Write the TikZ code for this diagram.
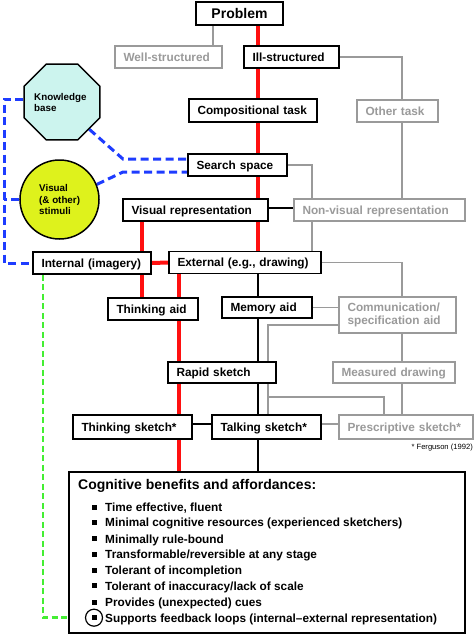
\documentclass[tikz,border=0pt]{standalone}
\usepackage{fontspec}
\setmainfont{Liberation Sans}
\usetikzlibrary{shapes.geometric}
\definecolor{grayc}{HTML}{9A9A9A}
\definecolor{kbfill}{HTML}{CCF4EE}
\definecolor{visfill}{HTML}{DEF21C}
\definecolor{blued}{HTML}{1E3CFF}
\definecolor{greend}{HTML}{44EE33}
\definecolor{redl}{HTML}{FF1010}
\pgfdeclarelayer{bg}
\pgfsetlayers{bg,main}
\begin{document}
\begin{tikzpicture}[x=1pt,y=-1pt,
  bx/.style={draw=black, line width=1.5pt, fill=white, inner xsep=8.5pt, inner ysep=0pt,
    align=left, font=\fontsize{11.8}{13.5}\selectfont\bfseries, text=black},
  oneline/.style={text height=9.5pt, text depth=1.05pt},
  gbx/.style={bx, draw=grayc, text=grayc, line width=1.2pt},
  redline/.style={draw=redl, line width=4pt},
  blkline/.style={draw=black, line width=1.8pt},
  grayline/.style={draw=grayc, line width=1.2pt},
  blueline/.style={draw=blued, line width=3pt, dash pattern=on 8pt off 4.5pt},
  greenline/.style={draw=greend, line width=2.7pt, dash pattern=on 6pt off 3.5pt},
  smalltxt/.style={font=\fontsize{9.8}{11.5}\selectfont\bfseries, align=left, inner sep=0pt, anchor=west},
  btxt/.style={font=\fontsize{11.8}{13.5}\selectfont\bfseries, inner sep=0pt, anchor=base west},
  bsq/.style={fill=black, minimum size=5pt, inner sep=0pt},
]
\useasboundingbox (0,0) rectangle (475,634);

% boxes
\node[bx, align=center, font=\fontsize{14}{16}\selectfont\bfseries, text height=11pt, text depth=1pt,
      minimum width=87pt, minimum height=23pt, inner xsep=0pt] (prob) at (239.5,13.5) {Problem};
\node[gbx, oneline, text width=90pt, minimum height=22pt] (well) at (168.5,57) {Well-structured};
\node[bx, oneline, text width=78pt, minimum height=22pt] (ill) at (291.5,57) {Ill-structured};
\node[bx, oneline, text width=111pt, minimum height=23pt] (comp) at (253,110.5) {Compositional task};
\node[gbx, oneline, text width=64pt, minimum height=22pt] (other) at (397.5,111) {Other task};
\node[bx, oneline, text width=82pt, minimum height=22pt] (search) at (237.5,165) {Search space};
\node[bx, oneline, text width=128pt, minimum height=22pt] (visrep) at (195.5,210) {Visual representation};
\node[gbx, oneline, text width=154pt, minimum height=22pt] (nonvis) at (379.5,210) {Non-visual representation};
\node[bx, oneline, text width=101pt, minimum height=22pt] (int) at (92,263) {Internal (imagery)};
\node[bx, oneline, text width=135pt, minimum height=22pt] (ext) at (245,262.5) {External (e.g., drawing)};
\node[bx, oneline, text width=73pt, minimum height=22pt] (thinka) at (153,309) {Thinking aid};
\node[bx, oneline, text width=73pt, minimum height=21pt] (mem) at (267,307.5) {Memory aid};
\node[gbx, text width=100pt, minimum height=36pt] (comm) at (397.5,315) {Communication/\\specification aid};
\node[bx, oneline, text width=91pt, minimum height=21pt] (rapid) at (222,372.5) {Rapid sketch};
\node[gbx, oneline, text width=105pt, minimum height=21pt] (meas) at (394,372.5) {Measured drawing};
\node[bx, oneline, text width=102pt, minimum height=24pt] (think) at (132.5,427) {Thinking sketch*};
\node[bx, oneline, text width=92pt, minimum height=24pt] (talk) at (266.5,427) {Talking sketch*};
\node[gbx, oneline, text width=117pt, minimum height=24pt] (presc) at (406,427) {Prescriptive sketch*};
\node[font=\fontsize{7.6}{9}\selectfont, inner sep=0pt, anchor=base east] (ferg) at (473,449.5) {* Ferguson (1992)};

% knowledge base and stimuli
\node[regular polygon, regular polygon sides=8, minimum size=82pt, inner sep=0pt,
      draw=black, line width=1.5pt, fill=kbfill] (kb) at (62,102) {};
\node[smalltxt] (kbt) at (34,102.5) {Knowledge\\base};
\node[circle, minimum size=79pt, inner sep=0pt, draw=black, line width=1.5pt, fill=visfill] (vis) at (59.5,199.5) {};
\node[smalltxt] (vist) at (39,199.5) {Visual\\(\& other)\\stimuli};

% cognitive box
\node[draw=black, line width=1.5pt, fill=white, minimum width=396pt, minimum height=161pt, inner sep=0pt] (cog) at (267,552.5) {};
\node[font=\fontsize{14}{16}\selectfont\bfseries, inner sep=0pt, anchor=base west] (cogt) at (78,489) {Cognitive benefits and affordances:};
\node[bsq] (q1) at (94,507) {};   \node[btxt] (t1) at (105,511.5) {Time effective, fluent};
\node[bsq] (q2) at (94,522.3) {}; \node[btxt] (t2) at (105,526.8) {Minimal cognitive resources (experienced sketchers)};
\node[bsq] (q3) at (94,538.7) {}; \node[btxt] (t3) at (105,543.2) {Minimally rule-bound};
\node[bsq] (q4) at (94,554.3) {}; \node[btxt] (t4) at (105,558.8) {Transformable/reversible at any stage};
\node[bsq] (q5) at (94,570) {};   \node[btxt] (t5) at (105,574.5) {Tolerant of incompletion};
\node[bsq] (q6) at (94,585.7) {}; \node[btxt] (t6) at (105,590.2) {Tolerant of inaccuracy/lack of scale};
\node[bsq] (q7) at (94,602.3) {}; \node[btxt] (t7) at (105,606.8) {Provides (unexpected) cues};
\node[bsq] (q8) at (94,617.7) {}; \node[btxt] (t8) at (105,622.2) {Supports feedback loops (internal--external representation)};
\node[circle, draw=black, line width=1.2pt, minimum size=17pt, inner sep=0pt] (fbc) at (94,617.7) {};

% helper coordinates
\coordinate (xR) at (258,0);
\coordinate (xRl) at (142,0);
\coordinate (xRm) at (179,0);
\coordinate (xW) at (213,0);
\coordinate (xG1) at (402,0);
\coordinate (xS) at (312,0);
\coordinate (xC) at (268,0);
\coordinate (xP) at (384,0);
\coordinate (xB) at (4,0);
\coordinate (xG) at (43,0);
\coordinate (ykb) at (0,99);
\coordinate (yv) at (0,208);
\coordinate (yc) at (0,325);
\coordinate (yp) at (0,397);
\coordinate (yt) at (0,424);
\coordinate (b1) at (123,159);
\coordinate (b2) at (123,172);

\begin{pgfonlayer}{bg}
% gray connectors
\draw[grayline] (prob.south -| xW) -- (well.north -| xW);
\draw[grayline] (ill.east) -- (xG1 |- ill.east) -- (other.north -| xG1);
\draw[grayline] (other.south -| xG1) -- (nonvis.north -| xG1);
\draw[grayline] (search.east) -- (xS |- search.east) -- (nonvis.north -| xS);
\draw[grayline] (nonvis.south -| xS) -- (ext.north -| xS);
\draw[grayline] (ext.east) -- (xG1 |- ext.east) -- (comm.north -| xG1);
\draw[grayline] (mem.east) -- (comm.west |- mem.east);
\draw[grayline] (comm.west |- yc) -- (xC |- yc) -- (rapid.north -| xC);
\draw[grayline] (rapid.south -| xC) -- (talk.north -| xC);
\draw[grayline] (xC |- yp) -- (xP |- yp) -- (presc.north -| xP);
\draw[grayline] (comm.south -| xG1) -- (meas.north -| xG1);
\draw[grayline] (meas.south -| xG1) -- (presc.north -| xG1);
\draw[grayline] (talk.east |- yt) -- (presc.west |- yt);
% black connectors
\draw[blkline] (visrep.east |- yv) -- (nonvis.west |- yv);
\draw[blkline] (ext.south -| xR) -- (mem.north -| xR);
\draw[blkline] (mem.south -| xR) -- (rapid.north -| xR);
\draw[blkline] (rapid.south -| xR) -- (talk.north -| xR);
\draw[blkline] (talk.south -| xR) -- (cog.north -| xR);
\draw[blkline] (think.east |- yt) -- (talk.west |- yt);
% red connectors
\draw[redline] (prob.south -| xR) -- (ill.north -| xR);
\draw[redline] (ill.south -| xR) -- (comp.north -| xR);
\draw[redline] (comp.south -| xR) -- (search.north -| xR);
\draw[redline] (search.south -| xR) -- (visrep.north -| xR);
\draw[redline] (visrep.south -| xR) -- (ext.north -| xR);
\draw[redline] (visrep.south -| xRl) -- (int.north -| xRl);
\draw[redline] (int.east) -- (ext.west);
\draw[redline] (int.south -| xRl) -- (thinka.north -| xRl);
\draw[redline] (ext.south -| xRm) -- (thinka.north -| xRm);
\draw[redline] (thinka.south -| xRm) -- (rapid.north -| xRm);
\draw[redline] (rapid.south -| xRm) -- (think.north -| xRm);
\draw[redline] (think.south -| xRm) -- (cog.north -| xRm);
% blue dashed
\draw[blueline] (kb.west |- ykb) -- (xB |- ykb) -- (xB |- int.west) -- (int.west);
\draw[blueline] (vis.west) -- (xB |- vis.west);
\draw[blueline] (kb.-45) -- (b1) -- (search.west |- b1);
\draw[blueline] (vis.22) -- (b2) -- (search.west |- b2);
% green dashed
\draw[greenline] (int.south -| xG) -- (xG |- fbc.west) -- (fbc.west);
\end{pgfonlayer}
\end{tikzpicture}
\end{document}
